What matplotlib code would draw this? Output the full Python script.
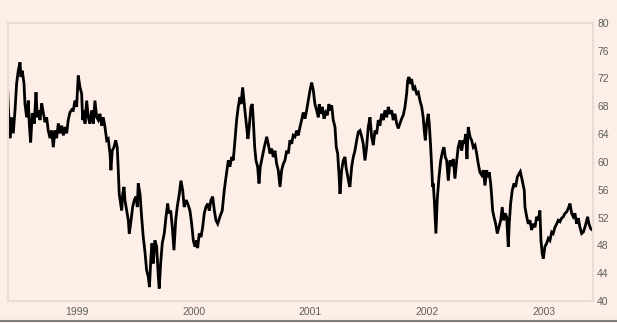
import matplotlib
matplotlib.use("Agg")
import matplotlib.pyplot as plt
import numpy as np

# ---- data (fractional year, price) ----
dates_1998 = [1998.403, 1998.413, 1998.426, 1998.440, 1998.454, 1998.469, 1998.483, 1998.497,
              1998.512, 1998.520, 1998.531, 1998.546, 1998.554, 1998.569, 1998.583, 1998.591,
              1998.603, 1998.617, 1998.634, 1998.649, 1998.660, 1998.674, 1998.683, 1998.698,
              1998.711, 1998.726, 1998.740, 1998.754, 1998.769, 1998.783, 1998.797, 1998.811,
              1998.826, 1998.840, 1998.854, 1998.869, 1998.883, 1998.897, 1998.912, 1998.925,
              1998.940, 1998.955, 1998.968, 1998.983, 1998.997]
price_1998 = [71.7, 67.5, 63.4, 66.4, 64.1, 67.4, 71.3, 73.1,
              74.3, 72.2, 73.1, 71.3, 68.4, 66.4, 68.8, 65.5,
              62.8, 67.0, 65.5, 70.0, 66.4, 67.4, 66.0, 68.4,
              67.1, 65.7, 66.4, 64.5, 63.4, 64.5, 62.1, 64.5,
              63.4, 65.5, 64.1, 65.2, 63.8, 65.0, 64.1, 66.0,
              67.1, 67.5, 67.4, 68.8, 67.9]

dates_1999 = [1999.011, 1999.026, 1999.040, 1999.049, 1999.060, 1999.069, 1999.083, 1999.097,
              1999.111, 1999.126, 1999.140, 1999.154, 1999.169, 1999.183, 1999.197, 1999.212,
              1999.225, 1999.240, 1999.255, 1999.268, 1999.283, 1999.291, 1999.302, 1999.317,
              1999.332, 1999.345, 1999.354, 1999.362, 1999.374, 1999.383, 1999.392, 1999.403,
              1999.411, 1999.426, 1999.440, 1999.448, 1999.460, 1999.477, 1999.491, 1999.506,
              1999.517, 1999.525, 1999.540, 1999.554, 1999.568, 1999.583, 1999.597, 1999.611,
              1999.621, 1999.634, 1999.643, 1999.654, 1999.668, 1999.683, 1999.697, 1999.705,
              1999.717, 1999.731, 1999.748, 1999.763, 1999.777, 1999.788, 1999.803, 1999.817,
              1999.831, 1999.846, 1999.859, 1999.877, 1999.891, 1999.906, 1999.919, 1999.934,
              1999.949, 1999.968, 1999.983, 1999.997]
price_1999 = [72.4, 70.7, 69.8, 66.0, 67.4, 65.5, 68.8, 66.4,
              65.5, 67.4, 65.5, 68.8, 66.4, 66.0, 66.9, 65.2,
              66.4, 65.0, 63.1, 63.3, 61.2, 58.8, 61.6, 62.1,
              63.1, 62.1, 58.8, 55.4, 54.0, 53.0, 55.4, 56.4,
              54.5, 53.0, 51.6, 49.7, 51.1, 53.5, 54.5, 55.0,
              53.5, 56.9, 55.4, 52.1, 49.2, 47.0, 44.4, 43.5,
              42.0, 46.4, 48.3, 45.4, 48.7, 47.8, 43.5, 41.8,
              45.4, 48.3, 49.7, 52.1, 54.0, 52.6, 53.0, 50.6,
              47.3, 51.6, 53.5, 55.4, 57.3, 55.9, 53.5, 54.5,
              54.0, 53.0, 51.1, 48.7]

dates_2000 = [2000.011, 2000.026, 2000.034, 2000.048, 2000.063, 2000.077, 2000.091, 2000.105,
              2000.120, 2000.134, 2000.148, 2000.163, 2000.177, 2000.191, 2000.206, 2000.225,
              2000.245, 2000.254, 2000.262, 2000.277, 2000.297, 2000.311, 2000.326, 2000.339,
              2000.354, 2000.368, 2000.382, 2000.397, 2000.405, 2000.420, 2000.431, 2000.442,
              2000.454, 2000.465, 2000.476, 2000.491, 2000.502, 2000.511, 2000.523, 2000.534,
              2000.548, 2000.560, 2000.571, 2000.588, 2000.605, 2000.626, 2000.639, 2000.654,
              2000.668, 2000.682, 2000.697, 2000.711, 2000.725, 2000.740, 2000.754, 2000.768,
              2000.782, 2000.797, 2000.811, 2000.825, 2000.840, 2000.853, 2000.868, 2000.883,
              2000.896, 2000.911, 2000.925, 2000.939, 2000.954, 2000.968, 2000.982, 2000.997]
price_2000 = [47.8, 48.7, 47.6, 49.7, 49.2, 50.6, 52.6, 53.5,
              54.0, 53.0, 54.5, 55.0, 53.0, 51.6, 51.1, 52.1,
              53.0, 54.5, 55.9, 57.8, 60.2, 59.3, 60.7, 60.2,
              63.1, 66.0, 67.9, 69.3, 68.3, 70.7, 68.8, 66.9,
              65.0, 63.3, 65.0, 67.9, 68.3, 66.0, 62.1, 60.2,
              59.3, 56.9, 59.3, 60.7, 62.1, 63.6, 62.6, 61.2,
              61.9, 60.7, 61.6, 59.7, 58.8, 56.4, 58.8, 59.7,
              60.2, 61.6, 61.2, 63.1, 62.6, 63.8, 63.6, 64.5,
              63.8, 65.0, 66.0, 67.1, 66.2, 67.4, 68.8, 70.3]

dates_2001 = [2001.011, 2001.025, 2001.039, 2001.054, 2001.068, 2001.076, 2001.088, 2001.102,
              2001.117, 2001.131, 2001.145, 2001.159, 2001.174, 2001.183, 2001.196, 2001.211,
              2001.222, 2001.234, 2001.245, 2001.254, 2001.268, 2001.282, 2001.297, 2001.305,
              2001.316, 2001.331, 2001.339, 2001.354, 2001.368, 2001.382, 2001.397, 2001.411,
              2001.425, 2001.440, 2001.453, 2001.468, 2001.482, 2001.496, 2001.511, 2001.525,
              2001.539, 2001.554, 2001.568, 2001.582, 2001.596, 2001.611, 2001.625, 2001.639,
              2001.654, 2001.668, 2001.682, 2001.697, 2001.710, 2001.725, 2001.740, 2001.753,
              2001.768, 2001.782, 2001.796, 2001.811, 2001.825, 2001.834, 2001.845, 2001.856,
              2001.868, 2001.882, 2001.896, 2001.911, 2001.925, 2001.939, 2001.954, 2001.967,
              2001.976, 2001.985, 2001.997]
price_2001 = [71.4, 70.3, 68.3, 67.4, 66.4, 68.3, 66.9, 67.9,
              66.2, 67.1, 66.7, 68.3, 67.4, 68.1, 66.0, 65.0,
              62.1, 61.2, 58.3, 55.4, 58.8, 60.2, 60.7, 59.3,
              58.3, 56.9, 56.4, 59.3, 60.7, 61.6, 63.1, 64.3,
              64.5, 63.6, 62.6, 60.2, 62.1, 65.0, 66.4, 63.6,
              62.4, 64.5, 64.0, 66.0, 65.2, 66.9, 66.0, 67.4,
              66.4, 67.9, 66.9, 67.4, 66.0, 66.9, 65.5, 64.8,
              65.5, 66.2, 66.7, 67.9, 69.8, 71.7, 72.2, 71.2,
              71.9, 70.3, 70.7, 69.8, 70.0, 68.8, 67.9, 66.4,
              64.5, 63.1, 65.5]

dates_2002 = [2002.010, 2002.019, 2002.031, 2002.039, 2002.048, 2002.053, 2002.062, 2002.070,
              2002.076, 2002.087, 2002.102, 2002.117, 2002.134, 2002.145, 2002.156, 2002.168,
              2002.182, 2002.196, 2002.211, 2002.225, 2002.239, 2002.254, 2002.267, 2002.282,
              2002.297, 2002.310, 2002.319, 2002.331, 2002.342, 2002.353, 2002.368, 2002.382,
              2002.396, 2002.411, 2002.425, 2002.439, 2002.453, 2002.468, 2002.482, 2002.496,
              2002.511, 2002.524, 2002.533, 2002.545, 2002.554, 2002.562, 2002.573, 2002.588,
              2002.602, 2002.616, 2002.631, 2002.644, 2002.656, 2002.668, 2002.682, 2002.696,
              2002.704, 2002.716, 2002.730, 2002.745, 2002.759, 2002.773, 2002.788, 2002.799,
              2002.816, 2002.833, 2002.839, 2002.854, 2002.867, 2002.882, 2002.896, 2002.910,
              2002.925, 2002.939, 2002.953, 2002.967, 2002.976, 2002.987, 2002.996]
price_2002 = [66.9, 65.5, 62.1, 59.3, 56.4, 56.9, 54.5, 51.6,
              49.7, 54.5, 57.8, 60.2, 61.6, 62.1, 60.7, 60.2,
              57.3, 60.2, 59.7, 60.4, 57.6, 60.2, 62.1, 63.1,
              61.6, 63.1, 62.6, 64.0, 60.4, 65.0, 63.6, 63.1,
              62.1, 62.4, 61.2, 59.7, 58.5, 58.1, 58.8, 56.6,
              58.8, 57.8, 58.5, 56.9, 55.0, 53.0, 52.1, 51.1,
              49.7, 50.6, 51.6, 53.5, 51.6, 52.6, 52.1, 47.8,
              51.1, 54.0, 55.9, 56.9, 56.4, 57.8, 58.3, 58.6,
              57.3, 55.9, 53.5, 52.1, 51.1, 51.6, 50.2, 51.1,
              50.6, 52.1, 51.6, 53.0, 48.7, 46.8, 46.1]

dates_2003 = [2003.010, 2003.025, 2003.039, 2003.053, 2003.068, 2003.081, 2003.096, 2003.111,
              2003.124, 2003.139, 2003.153, 2003.167, 2003.182, 2003.196, 2003.210, 2003.225,
              2003.239, 2003.253, 2003.267, 2003.282, 2003.296, 2003.310, 2003.325, 2003.339,
              2003.353, 2003.368, 2003.376, 2003.387, 2003.402, 2003.416]
price_2003 = [47.8, 48.3, 49.0, 48.7, 49.9, 49.7, 50.6, 51.1,
              51.6, 51.4, 51.9, 52.1, 52.6, 52.8, 53.3, 54.0,
              52.6, 52.1, 52.6, 51.1, 51.9, 50.6, 49.7, 49.9,
              50.6, 51.6, 52.1, 51.1, 50.4, 50.2]

year_ticks = [1999, 2000, 2001, 2002, 2003]
year_labels = ["1999", "2000", "2001", "2002", "2003"]
price_ticks = [40, 44, 48, 52, 56, 60, 64, 68, 72, 76, 80]

dates = np.concatenate([dates_1998, dates_1999, dates_2000, dates_2001, dates_2002, dates_2003])
prices = np.concatenate([price_1998, price_1999, price_2000, price_2001, price_2002, price_2003])

# ---- styling ----
BG = "#fdeee7"
FRAME = "#eadcd4"
TXT = "#5f5f5f"
plt.rcParams["font.family"] = ["Liberation Sans", "DejaVu Sans"]

W, H = 617, 323
fig = plt.figure(figsize=(W / 100, H / 100), dpi=100, facecolor=BG)
ax = fig.add_axes([8 / W, (H - 301) / H, (593 - 8) / W, (301 - 22.7) / H])
ax.set_facecolor(BG)

ax.plot(dates, prices, color="black", lw=2.0, solid_joinstyle="miter")

ax.set_xlim(1998.409, 2003.422)
ax.set_ylim(40, 80)
ax.set_xticks(year_ticks)
ax.set_xticklabels(year_labels)
ax.set_yticks(price_ticks)
ax.yaxis.tick_right()
ax.tick_params(axis="both", length=0, labelsize=7.5, labelcolor=TXT)
ax.tick_params(axis="y", pad=3)
ax.tick_params(axis="x", pad=4)
for lab in ax.get_yticklabels():
    lab.set_horizontalalignment("left")
for s in ax.spines.values():
    s.set_color(FRAME)
    s.set_linewidth(1.5)

# window-style bottom edge
fig.add_artist(plt.Line2D([0, 1], [2.5 / H, 2.5 / H], color="#7d7d7d", lw=1.5,
                          transform=fig.transFigure))

fig.savefig("out.png", dpi=100, facecolor=BG)
